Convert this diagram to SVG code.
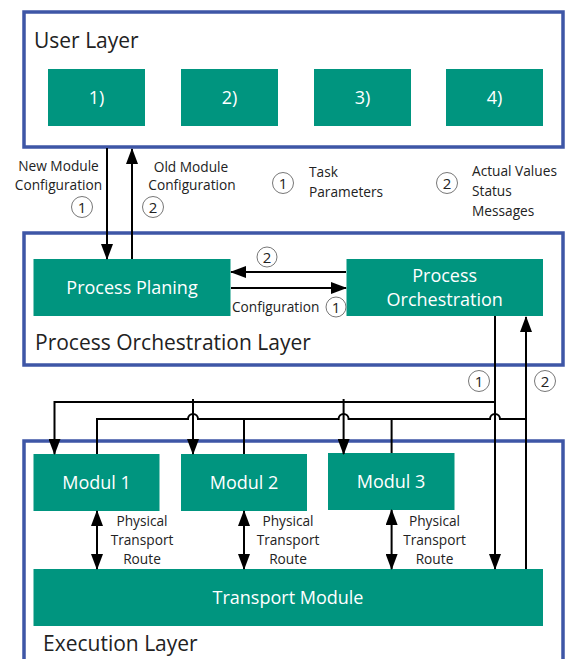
<svg xmlns="http://www.w3.org/2000/svg" width="570" height="659" viewBox="0 0 570 659">
<defs>
<style>
.layer{fill:#fff;stroke:#3e56a6;stroke-width:3.5}
.box{fill:#00957f}
.lt{font-family:"Open Sans","Noto Sans",sans-serif;font-size:21px;fill:#222}
.bt{font-family:"Open Sans","Noto Sans",sans-serif;font-size:18px;fill:#fff;text-anchor:middle}
.st{font-family:"Open Sans","Noto Sans",sans-serif;font-size:13.7px;fill:#222}
.ct{font-family:"Open Sans","Noto Sans",sans-serif;font-size:15px;fill:#222;text-anchor:middle}
.circ{fill:#fff;stroke:#777;stroke-width:1}
.ln{fill:none;stroke:#000;stroke-width:2}
</style>
<marker id="ah" markerUnits="userSpaceOnUse" markerWidth="16" markerHeight="12" refX="15" refY="6" orient="auto-start-reverse" viewBox="0 0 16 12">
<path d="M0,0 L16,6 L0,12 z" fill="#000"/>
</marker>
</defs>
<rect width="570" height="659" fill="#fff"/>

<g id="user-layer">
<rect class="layer" x="24" y="12" width="539" height="135"/>
<text class="lt" x="34" y="48">User Layer</text>
</g>
<g id="u1"><rect class="box" x="48" y="69" width="97" height="57"/><text class="bt" x="96.5" y="104">1)</text></g>
<g id="u2"><rect class="box" x="181" y="69" width="97" height="57"/><text class="bt" x="229.5" y="104">2)</text></g>
<g id="u3"><rect class="box" x="314" y="69" width="97" height="57"/><text class="bt" x="362.5" y="104">3)</text></g>
<g id="u4"><rect class="box" x="446" y="69" width="97" height="57"/><text class="bt" x="494.5" y="104">4)</text></g>

<g id="po-layer">
<rect class="layer" x="24" y="233" width="539" height="132"/>
<text class="lt" x="35" y="350">Process Orchestration Layer</text>
</g>
<g id="planing"><rect class="box" x="33.5" y="259" width="197" height="57"/><text class="bt" x="132" y="294">Process Planing</text></g>
<g id="orchestration"><rect class="box" x="346.5" y="259" width="196.5" height="57"/><text class="bt" x="444.7" y="282">Process</text><text class="bt" x="444.7" y="306">Orchestration</text></g>

<g id="exec-layer">
<rect class="layer" x="24" y="441" width="539" height="260"/>
<text class="lt" x="43" y="651">Execution Layer</text>
</g>
<g id="modul1"><rect class="box" x="33.5" y="454" width="126" height="57"/><text class="bt" x="96.5" y="489">Modul 1</text></g>
<g id="modul2"><rect class="box" x="181" y="454" width="126" height="57"/><text class="bt" x="244" y="489">Modul 2</text></g>
<g id="modul3"><rect class="box" x="328" y="453" width="126.5" height="57"/><text class="bt" x="391" y="488">Modul 3</text></g>
<g id="transport"><rect class="box" x="33.5" y="569" width="509.5" height="57"/><text class="bt" x="288" y="604">Transport Module</text></g>

<g id="connectors">
<path class="ln" d="M107,148 L107,259" marker-end="url(#ah)"/>
<path class="ln" d="M132,259 L132,149" marker-end="url(#ah)"/>
<path class="ln" d="M346,272 L231,272" marker-end="url(#ah)"/>
<path class="ln" d="M231,288 L346,288" marker-end="url(#ah)"/>
<path class="ln" d="M495,316 L495,569" marker-end="url(#ah)"/>
<path class="ln" d="M495,402 L54.5,402 L54.5,454" marker-end="url(#ah)"/>
<path class="ln" d="M193,399 L193,454" marker-end="url(#ah)"/>
<path class="ln" d="M343.6,399 L343.6,454" marker-end="url(#ah)"/>
<path class="ln" d="M97,454 L97,419 L188,419 A5,5 0 0 1 198,419 L338.6,419 A5,5 0 0 1 348.6,419 L490,419 A5,5 0 0 1 500,419 L526,419"/>
<path class="ln" d="M526,569 L526,317" marker-end="url(#ah)"/>
<path class="ln" d="M244,454 L244,419"/>
<path class="ln" d="M391.6,453 L391.6,419"/>
<path class="ln" d="M97,511 L97,569" marker-start="url(#ah)" marker-end="url(#ah)"/>
<path class="ln" d="M244,511 L244,569" marker-start="url(#ah)" marker-end="url(#ah)"/>
<path class="ln" d="M391.6,510 L391.6,569" marker-start="url(#ah)" marker-end="url(#ah)"/>
</g>

<g id="labels">
<text class="st" x="58.5" y="171" text-anchor="middle">New Module</text>
<text class="st" x="58.5" y="190" text-anchor="middle">Configuration</text>
<text class="st" x="191" y="172" text-anchor="middle">Old Module</text>
<text class="st" x="192" y="190" text-anchor="middle">Configuration</text>
<text class="st" x="309" y="177">Task</text>
<text class="st" x="309" y="197">Parameters</text>
<text class="st" x="472" y="176">Actual Values</text>
<text class="st" x="472" y="196">Status</text>
<text class="st" x="472" y="216">Messages</text>
<text class="st" x="232" y="312">Configuration</text>
<text class="st" x="142" y="526" text-anchor="middle">Physical</text>
<text class="st" x="142" y="545" text-anchor="middle">Transport</text>
<text class="st" x="142" y="564" text-anchor="middle">Route</text>
<text class="st" x="288" y="526" text-anchor="middle">Physical</text>
<text class="st" x="288" y="545" text-anchor="middle">Transport</text>
<text class="st" x="288" y="564" text-anchor="middle">Route</text>
<text class="st" x="434.5" y="526" text-anchor="middle">Physical</text>
<text class="st" x="434.5" y="545" text-anchor="middle">Transport</text>
<text class="st" x="434.5" y="564" text-anchor="middle">Route</text>
</g>

<g id="markers">
<circle class="circ" cx="82" cy="207" r="10.5"/><text class="ct" x="82" y="212.5">1</text>
<circle class="circ" cx="153" cy="207" r="10.5"/><text class="ct" x="153" y="212.5">2</text>
<circle class="circ" cx="283" cy="183" r="10.5"/><text class="ct" x="283" y="188.5">1</text>
<circle class="circ" cx="447" cy="183" r="10.5"/><text class="ct" x="447" y="188.5">2</text>
<circle class="circ" cx="267" cy="257" r="10"/><text class="ct" x="267" y="262.5">2</text>
<circle class="circ" cx="336" cy="307" r="10"/><text class="ct" x="336" y="312.5">1</text>
<circle class="circ" cx="479" cy="381" r="10.5"/><text class="ct" x="479" y="386.5">1</text>
<circle class="circ" cx="545" cy="381" r="10.5"/><text class="ct" x="545" y="386.5">2</text>
</g>
</svg>
